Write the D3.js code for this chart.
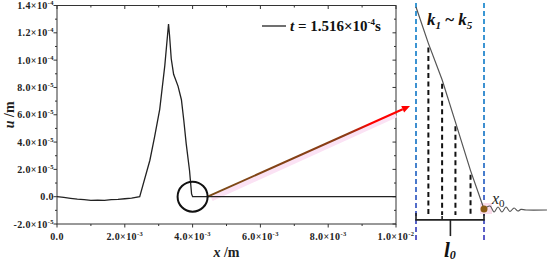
<!DOCTYPE html>
<html>
<head>
<meta charset="utf-8">
<script src="https://cdnjs.cloudflare.com/ajax/libs/d3/7.8.5/d3.min.js"></script>
<style>
  body { margin: 0; background: #fff; }
  svg text { font-family: "Liberation Serif", "Times New Roman", "DejaVu Serif", serif; }
</style>
</head>
<body>
<div id="chart"></div>
<script>
// main curve u(x), x in m, u in m
const curveX = [0, 0.0002, 0.0004, 0.0006, 0.0008, 0.001, 0.0012, 0.0014, 0.0016, 0.0018, 0.002, 0.0022, 0.00244,
  0.00274, 0.00288, 0.00303, 0.00318, 0.00329, 0.00332, 0.00337, 0.00344, 0.00357, 0.00367, 0.00374, 0.00381,
  0.00391, 0.00397, 0.004, 0.01];
const curveU = [0, -0.05e-5, -0.12e-5, -0.18e-5, -0.22e-5, -0.27e-5, -0.25e-5, -0.27e-5, -0.22e-5, -0.2e-5, -0.15e-5, -0.1e-5, 0,
  2.67e-5, 4.4e-5, 6.4e-5, 9.6e-5, 12.65e-5, 11.8e-5, 10.1e-5, 8.96e-5, 8.1e-5, 7.1e-5, 5.6e-5, 3.9e-5,
  1.9e-5, 0.2e-5, 0, 0];

const xTicks = [0, 0.002, 0.004, 0.006, 0.008, 0.01];
const xTickMant = ["0.0", "2.0", "4.0", "6.0", "8.0", "1.0"];
const xTickExp = [null, "-3", "-3", "-3", "-3", "-2"];
const yTicks = [-2e-5, 0, 2e-5, 4e-5, 6e-5, 8e-5, 1e-4, 1.2e-4, 1.4e-4];
const yTickMant = ["-2.0", "0.0", "2.0", "4.0", "6.0", "8.0", "1.0", "1.2", "1.4"];
const yTickExp = ["-5", null, "-5", "-5", "-5", "-5", "-4", "-4", "-4"];

// zoomed sketch of the wave front (k index along l0, normalised u)
const slopeK = [0, 0.91, 1.92, 2.9, 4.01, 5];
const slopeU = [1, 0.82, 0.64, 0.43, 0.19, 0];
const tailK = [5, 5.44, 5.74, 6.03, 6.32, 6.62, 6.91, 7.21, 7.5, 7.72, 8.09, 9.63];
const tailU = [0, 0.015, -0.015, 0.01, -0.015, 0.01, -0.012, 0.005, -0.01, -0.002, -0.005, -0.005];

const W = 550, H = 266;
const svg = d3.select('#chart').append('svg')
  .attr('width', W).attr('height', H)
  .style('display', 'block');
const defs = svg.append('defs');

const x = d3.scaleLinear().domain([0, 0.01]).range([57, 396]);
const y = d3.scaleLinear().domain([-2e-5, 1.4e-4]).range([224, 5.5]);

// frame
const frame = '#333';
svg.append('rect')
  .attr('x', x(0)).attr('y', y(1.4e-4))
  .attr('width', x(0.01) - x(0)).attr('height', y(-2e-5) - y(1.4e-4))
  .attr('fill', 'none').attr('stroke', frame).attr('stroke-width', 1);

const xMinor = d3.range(0, 0.01001, 0.001);
const yMinor = d3.range(-2e-5, 1.4001e-4, 1e-5);
const tickG = svg.append('g').attr('stroke', frame).attr('stroke-width', 1);
xMinor.forEach((v, i) => {
  const len = i % 2 === 0 ? 3.5 : 2;
  const px = x(v);
  tickG.append('line').attr('x1', px).attr('x2', px).attr('y1', y(-2e-5)).attr('y2', y(-2e-5) + len);
  tickG.append('line').attr('x1', px).attr('x2', px).attr('y1', y(1.4e-4)).attr('y2', y(1.4e-4) + len);
});
yMinor.forEach((v, i) => {
  const len = i % 2 === 0 ? 3.5 : 2;
  const py = y(v);
  tickG.append('line').attr('x1', x(0)).attr('x2', x(0) - len).attr('y1', py).attr('y2', py);
  tickG.append('line').attr('x1', x(0.01)).attr('x2', x(0.01) - len).attr('y1', py).attr('y2', py);
});

function sciLabel(sel, mant, exp) {
  sel.append('tspan').text(exp ? mant + '×10' : mant);
  if (exp) sel.append('tspan').attr('dy', -4).attr('font-size', 6.5).text(exp);
}

xTicks.forEach((v, i) => {
  const t = svg.append('text')
    .attr('x', x(v)).attr('y', 240)
    .attr('text-anchor', 'middle').attr('letter-spacing', 0.4)
    .attr('font-size', 10).attr('font-weight', 'bold').attr('fill', '#222');
  sciLabel(t, xTickMant[i], xTickExp[i]);
});
yTicks.forEach((v, i) => {
  const t = svg.append('text')
    .attr('x', 54).attr('y', y(v) + 3.5)
    .attr('text-anchor', 'end').attr('letter-spacing', 0.4)
    .attr('font-size', 10).attr('font-weight', 'bold').attr('fill', '#222');
  sciLabel(t, yTickMant[i], yTickExp[i]);
});

// axis titles
svg.append('text').attr('x', x(0.005)).attr('y', 257).attr('text-anchor', 'middle')
  .attr('font-size', 14).attr('font-weight', 'bold').attr('fill', '#222')
  .html('<tspan font-style="italic">x</tspan> /m');
svg.append('text').attr('transform', `translate(14,${y(6e-5)}) rotate(-90)`).attr('text-anchor', 'middle')
  .attr('font-size', 14).attr('font-weight', 'bold').attr('fill', '#222')
  .html('<tspan font-style="italic">u</tspan> /m');

// circle marker at the front
const cx = x(0.004), cy = y(0), cr = 15;

// inset scales
const ix = d3.scaleLinear().domain([0, 5]).range([416, 484]);
const iy = d3.scaleLinear().domain([0, 1]).range([209, 7]);

// arrow from circle to inset (drawn under the curve)
const a0 = [cx + cr, cy], a1 = [410, 106];
const grad = defs.append('linearGradient').attr('id', 'arrowGrad')
  .attr('gradientUnits', 'userSpaceOnUse')
  .attr('x1', a0[0]).attr('y1', a0[1]).attr('x2', a1[0]).attr('y2', a1[1]);
grad.append('stop').attr('offset', 0).attr('stop-color', '#7a4a16');
grad.append('stop').attr('offset', 0.7).attr('stop-color', '#8c3a14');
grad.append('stop').attr('offset', 0.8).attr('stop-color', '#ff0000');
grad.append('stop').attr('offset', 1).attr('stop-color', '#ff0000');
svg.append('line').attr('x1', a0[0] + 4).attr('y1', a0[1] + 2).attr('x2', a1[0] - 14).attr('y2', a1[1] + 9)
  .attr('stroke', '#fbe2f4').attr('stroke-width', 5);
const ang = Math.atan2(a1[1] - a0[1], a1[0] - a0[0]);
const hl = 8, hw = 3.5;
const base = [a1[0] - hl * Math.cos(ang), a1[1] - hl * Math.sin(ang)];
svg.append('line').attr('x1', a0[0]).attr('y1', a0[1]).attr('x2', base[0]).attr('y2', base[1])
  .attr('stroke', 'url(#arrowGrad)').attr('stroke-width', 2);
svg.append('polygon')
  .attr('points', [a1,
    [base[0] + hw * Math.sin(ang), base[1] - hw * Math.cos(ang)],
    [base[0] - hw * Math.sin(ang), base[1] + hw * Math.cos(ang)]].map(p => p.join(',')).join(' '))
  .attr('fill', '#ff0000');

// curve
const line = d3.line().x(d => x(d[0])).y(d => y(d[1]));
svg.append('path')
  .datum(curveX.map((v, i) => [v, curveU[i]]))
  .attr('d', line)
  .attr('fill', 'none').attr('stroke', '#222').attr('stroke-width', 1.3);

svg.append('circle').attr('cx', cx).attr('cy', cy).attr('r', cr)
  .attr('fill', 'none').attr('stroke', '#111').attr('stroke-width', 2);

// legend
svg.append('line').attr('x1', 262).attr('x2', 286).attr('y1', 26).attr('y2', 26)
  .attr('stroke', '#222').attr('stroke-width', 1.3);
const leg = svg.append('text').attr('x', 290).attr('y', 31)
  .attr('font-size', 15).attr('font-weight', 'bold').attr('fill', '#111');
leg.append('tspan').attr('font-style', 'italic').text('t');
leg.append('tspan').text(' = 1.516×10');
leg.append('tspan').attr('dy', -6).attr('font-size', 9).text('-4');
leg.append('tspan').attr('dy', 6).text('s');

// inset: blue dashed bounds
const bgrad = defs.append('linearGradient').attr('id', 'blueGrad')
  .attr('gradientUnits', 'userSpaceOnUse').attr('x1', 0).attr('y1', 3).attr('x2', 0).attr('y2', 242);
bgrad.append('stop').attr('offset', 0).attr('stop-color', '#3a98d4');
bgrad.append('stop').attr('offset', 0.6).attr('stop-color', '#3f8ccf');
bgrad.append('stop').attr('offset', 1).attr('stop-color', '#5d58c6');
[0, 5].forEach(k => {
  svg.append('line').attr('x1', ix(k)).attr('x2', ix(k) + 0.01).attr('y1', 3).attr('y2', 242)
    .attr('stroke', 'url(#blueGrad)').attr('stroke-width', 2).attr('stroke-dasharray', '5,3');
});

// inset: black dashed verticals
slopeK.slice(1, 5).forEach((k, i) => {
  svg.append('line').attr('x1', ix(k)).attr('x2', ix(k))
    .attr('y1', iy(slopeU[i + 1] - 0.02)).attr('y2', iy(-0.03))
    .attr('stroke', '#111').attr('stroke-width', 2).attr('stroke-dasharray', '5,3.5');
});

// inset: brace for l0
const brace = svg.append('g').attr('stroke', '#222').attr('stroke-width', 1.6).attr('fill', 'none');
brace.append('path').attr('d', d3.line()([
  [ix(0), iy(-0.02)], [ix(0), iy(-0.054)], [ix(5), iy(-0.054)], [ix(5), iy(-0.02)]
]));
brace.append('line').attr('x1', ix(2.53)).attr('x2', ix(2.53)).attr('y1', iy(-0.054)).attr('y2', iy(-0.134));
brace.append('line').attr('x1', ix(1.92)).attr('x2', ix(1.92)).attr('y1', iy(-0.054)).attr('y2', iy(-0.035));

// inset: highlight + slope + tail
svg.append('rect').attr('x', ix(5) - 4).attr('y', iy(0) - 6).attr('width', 12).attr('height', 11)
  .attr('fill', '#fadcea');
const iline = d3.line().x(d => ix(d[0])).y(d => iy(d[1]));
svg.append('path').datum(slopeK.map((k, i) => [k, slopeU[i]])).attr('d', iline)
  .attr('fill', 'none').attr('stroke', '#555').attr('stroke-width', 1.2);
svg.append('path').datum(tailK.map((k, i) => [k, tailU[i]])).attr('d', iline.curve(d3.curveCatmullRom))
  .attr('fill', 'none').attr('stroke', '#555').attr('stroke-width', 1.1);
svg.append('circle').attr('cx', ix(5)).attr('cy', iy(0)).attr('r', 3.5).attr('fill', '#8a5a14');

// inset labels
const kl = svg.append('text').attr('x', 427).attr('y', 25)
  .attr('font-size', 17).attr('font-weight', 'bold').attr('font-style', 'italic').attr('fill', '#111');
kl.append('tspan').text('k');
kl.append('tspan').attr('dy', 4).attr('font-size', 11).text('1');
kl.append('tspan').attr('dy', -4).attr('font-style', 'normal').text(' ~ ');
kl.append('tspan').text('k');
kl.append('tspan').attr('dy', 4).attr('font-size', 11).text('5');

const xl = svg.append('text').attr('x', 492).attr('y', 204)
  .attr('font-size', 16).attr('font-style', 'italic').attr('fill', '#222');
xl.append('tspan').text('x');
xl.append('tspan').attr('dy', 3).attr('font-size', 11).attr('font-style', 'normal').text('0');

const ll = svg.append('text').attr('x', 444).attr('y', 257)
  .attr('font-size', 21).attr('font-weight', 'bold').attr('font-style', 'italic').attr('fill', '#111');
ll.append('tspan').text('l');
ll.append('tspan').attr('dy', 2).attr('font-size', 12).text('0');
</script>
</body>
</html>
